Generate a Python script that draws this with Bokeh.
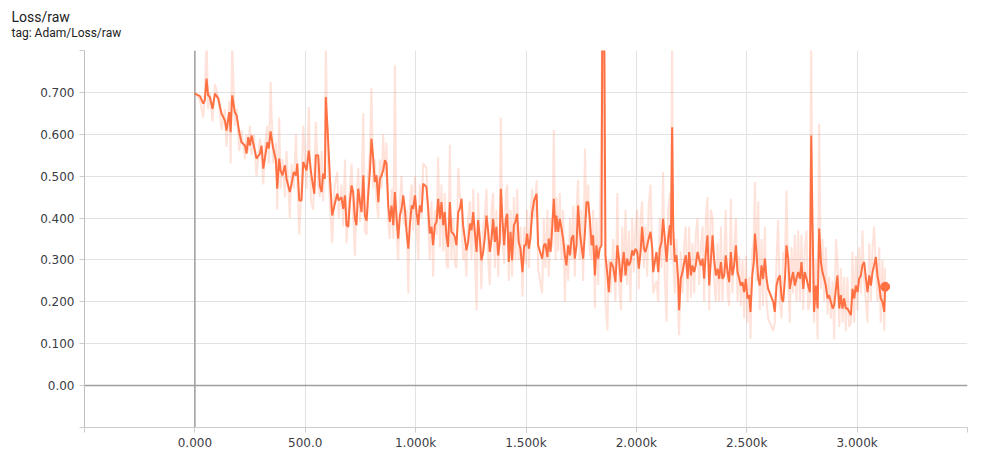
from bokeh.plotting import figure
from bokeh.models import Range1d, FixedTicker, Span, Title
from bokeh.embed import file_html
from bokeh.resources import INLINE

# ---- data ----
steps_a = [0, 23, 38, 45, 53, 60, 68, 80, 91, 106, 121, 136, 143, 156, 162, 169, 181, 189, 201, 211,
           227, 234, 242, 249, 257, 267, 279, 295, 302, 310, 317, 328, 335, 343, 355, 367, 373, 382, 388, 397,
           408, 415, 430, 438, 448, 458, 464, 473, 483, 491]
smooth_a = [0.697, 0.691, 0.673, 0.681, 0.733, 0.693, 0.689, 0.661, 0.697, 0.685,
            0.649, 0.633, 0.609, 0.653, 0.605, 0.693, 0.653, 0.645, 0.605, 0.581,
            0.573, 0.554, 0.593, 0.573, 0.597, 0.573, 0.542, 0.554, 0.573, 0.518,
            0.542, 0.581, 0.566, 0.607, 0.566, 0.538, 0.470, 0.542, 0.514, 0.502,
            0.526, 0.494, 0.462, 0.482, 0.510, 0.502, 0.530, 0.442, 0.442, 0.534]
raw_a = [0.700, 0.680, 0.640, 0.700, 0.830, 0.660, 0.700, 0.630, 0.720, 0.690,
         0.610, 0.660, 0.570, 0.680, 0.530, 0.820, 0.620, 0.660, 0.560, 0.610,
         0.540, 0.600, 0.560, 0.620, 0.550, 0.600, 0.500, 0.590, 0.540, 0.480,
         0.570, 0.620, 0.530, 0.725, 0.530, 0.580, 0.420, 0.640, 0.470, 0.540,
         0.450, 0.560, 0.400, 0.530, 0.470, 0.600, 0.490, 0.360, 0.480, 0.620]

steps_b = [506, 516, 526, 536, 541, 548, 559, 566, 574, 581, 589, 593, 601, 612, 622, 634, 645, 652, 664, 672,
           680, 687, 695, 702, 710, 717, 725, 732, 740, 748, 755, 763, 770, 778, 785, 793, 800, 808, 815, 823,
           831, 838, 846, 853, 861, 868, 876, 883, 891, 899, 906, 914, 921, 929, 936, 944, 951, 959, 967, 974,
           982, 989, 997, 1004, 1012, 1019, 1027, 1034]
smooth_b = [0.514, 0.561, 0.510, 0.474, 0.458, 0.550, 0.550, 0.478, 0.462, 0.506,
            0.494, 0.689, 0.613, 0.494, 0.406, 0.434, 0.458, 0.442, 0.450, 0.422,
            0.454, 0.383, 0.379, 0.438, 0.478, 0.462, 0.398, 0.383, 0.470, 0.438,
            0.414, 0.502, 0.406, 0.394, 0.454, 0.514, 0.589, 0.542, 0.486, 0.502,
            0.438, 0.494, 0.502, 0.514, 0.538, 0.530, 0.430, 0.391, 0.430, 0.383,
            0.462, 0.398, 0.351, 0.406, 0.422, 0.454, 0.422, 0.367, 0.327, 0.383,
            0.430, 0.422, 0.454, 0.414, 0.383, 0.430, 0.414, 0.482]
raw_b = [0.470, 0.665, 0.440, 0.420, 0.500, 0.630, 0.480, 0.450, 0.560, 0.440,
         0.540, 0.820, 0.560, 0.430, 0.340, 0.480, 0.510, 0.400, 0.480, 0.380,
         0.540, 0.340, 0.420, 0.470, 0.530, 0.410, 0.310, 0.440, 0.520, 0.390,
         0.470, 0.650, 0.370, 0.360, 0.500, 0.560, 0.710, 0.470, 0.540, 0.440,
         0.400, 0.540, 0.470, 0.600, 0.500, 0.580, 0.390, 0.350, 0.470, 0.350,
         0.765, 0.360, 0.300, 0.440, 0.500, 0.400, 0.380, 0.420, 0.220, 0.440,
         0.480, 0.370, 0.500, 0.380, 0.300, 0.480, 0.400, 0.530]

steps_c = [1049, 1057, 1064, 1072, 1079, 1087, 1095, 1102, 1110, 1117, 1125, 1132, 1140, 1147, 1155, 1162,
           1170, 1178, 1185, 1193, 1200, 1208, 1215, 1223, 1230, 1238, 1246, 1253, 1261, 1268, 1276, 1283,
           1291, 1298, 1306, 1313, 1321, 1329, 1336, 1344, 1351, 1359, 1366, 1374, 1381, 1386, 1393, 1401,
           1409, 1415, 1422, 1430, 1437, 1445, 1452, 1460, 1467, 1475, 1484, 1492, 1499, 1505, 1513, 1520,
           1528, 1537, 1548, 1555]
smooth_c = [0.474, 0.422, 0.363, 0.379, 0.335, 0.383, 0.391, 0.446, 0.398, 0.438,
            0.383, 0.414, 0.355, 0.331, 0.438, 0.367, 0.363, 0.355, 0.335, 0.414,
            0.422, 0.446, 0.383, 0.351, 0.323, 0.343, 0.387, 0.371, 0.414, 0.367,
            0.319, 0.395, 0.351, 0.299, 0.319, 0.351, 0.406, 0.367, 0.319, 0.351,
            0.398, 0.343, 0.379, 0.311, 0.343, 0.470, 0.398, 0.335, 0.398, 0.410,
            0.295, 0.367, 0.299, 0.383, 0.391, 0.410, 0.343, 0.327, 0.271, 0.335,
            0.335, 0.363, 0.327, 0.351, 0.414, 0.442, 0.458, 0.335]
raw_c = [0.520, 0.380, 0.300, 0.440, 0.260, 0.420, 0.360, 0.545, 0.330, 0.480,
         0.320, 0.460, 0.290, 0.280, 0.575, 0.300, 0.400, 0.290, 0.280, 0.520,
         0.460, 0.420, 0.300, 0.330, 0.260, 0.400, 0.440, 0.300, 0.470, 0.320,
         0.180, 0.460, 0.330, 0.230, 0.380, 0.400, 0.470, 0.300, 0.240, 0.420,
         0.460, 0.280, 0.420, 0.260, 0.380, 0.640, 0.350, 0.290, 0.460, 0.480,
         0.250, 0.420, 0.260, 0.450, 0.300, 0.470, 0.300, 0.380, 0.212, 0.380,
         0.290, 0.420, 0.280, 0.400, 0.470, 0.400, 0.490, 0.280]

steps_d = [1573, 1581, 1588, 1597, 1603, 1611, 1619, 1626, 1634, 1638, 1646, 1653, 1661, 1668, 1676, 1683,
           1691, 1699, 1706, 1714, 1721, 1729, 1736, 1744, 1751, 1759, 1767, 1774, 1782, 1789, 1797, 1804,
           1812, 1819, 1827, 1834, 1842, 1848, 1854, 1860, 1869, 1875, 1884, 1895, 1905, 1914, 1921, 1930,
           1936, 1943, 1951, 1958, 1966, 1973, 1981, 1988, 1996, 2004, 2011, 2019, 2026, 2034, 2041, 2049,
           2056, 2064, 2072, 2076]
smooth_d = [0.303, 0.335, 0.339, 0.307, 0.351, 0.319, 0.379, 0.446, 0.367, 0.406,
            0.367, 0.398, 0.375, 0.351, 0.311, 0.287, 0.335, 0.311, 0.351, 0.359,
            0.303, 0.335, 0.430, 0.367, 0.335, 0.303, 0.367, 0.438, 0.438, 0.398,
            0.335, 0.359, 0.263, 0.335, 0.303, 0.327, 0.335, 1.200, 0.900, 0.311,
            0.263, 0.223, 0.295, 0.283, 0.247, 0.335, 0.303, 0.247, 0.287, 0.319,
            0.263, 0.303, 0.287, 0.295, 0.323, 0.311, 0.327, 0.319, 0.279, 0.319,
            0.379, 0.327, 0.319, 0.335, 0.351, 0.367, 0.327, 0.271]
raw_d = [0.220, 0.400, 0.280, 0.420, 0.260, 0.400, 0.330, 0.610, 0.300, 0.450,
         0.320, 0.460, 0.300, 0.420, 0.200, 0.340, 0.250, 0.400, 0.300, 0.430,
         0.260, 0.420, 0.490, 0.300, 0.420, 0.250, 0.566, 0.400, 0.480, 0.320,
         0.300, 0.420, 0.184, 0.400, 0.240, 0.400, 0.650, 1.300, 0.500, 0.200,
         0.132, 0.300, 0.220, 0.350, 0.200, 0.460, 0.250, 0.180, 0.380, 0.260,
         0.420, 0.240, 0.370, 0.200, 0.400, 0.270, 0.380, 0.420, 0.230, 0.400,
         0.440, 0.280, 0.380, 0.260, 0.430, 0.480, 0.300, 0.220]

steps_e = [2091, 2099, 2106, 2114, 2121, 2129, 2137, 2144, 2152, 2156, 2162, 2167, 2174, 2182, 2189, 2194,
           2201, 2209, 2217, 2224, 2232, 2239, 2247, 2254, 2262, 2269, 2277, 2284, 2292, 2300, 2307, 2315,
           2322, 2330, 2337, 2345, 2352, 2360, 2368, 2375, 2383, 2390, 2398, 2405, 2413, 2420, 2428, 2435,
           2443, 2451, 2458, 2466, 2473, 2481, 2488, 2496, 2503, 2511, 2517, 2525, 2532, 2537, 2544, 2552,
           2559, 2567, 2574, 2582, 2590, 2597]
smooth_e = [0.319, 0.271, 0.327, 0.343, 0.398, 0.351, 0.295, 0.351, 0.383, 0.335,
            0.617, 0.375, 0.295, 0.311, 0.255, 0.180, 0.255, 0.271, 0.295, 0.311,
            0.255, 0.319, 0.263, 0.287, 0.271, 0.287, 0.319, 0.303, 0.287, 0.303,
            0.255, 0.319, 0.359, 0.239, 0.295, 0.359, 0.303, 0.263, 0.279, 0.255,
            0.295, 0.255, 0.263, 0.311, 0.271, 0.247, 0.319, 0.263, 0.287, 0.335,
            0.271, 0.255, 0.239, 0.247, 0.223, 0.255, 0.208, 0.216, 0.176, 0.263,
            0.295, 0.363, 0.319, 0.255, 0.239, 0.287, 0.255, 0.303, 0.255, 0.231]
raw_e = [0.250, 0.200, 0.400, 0.280, 0.510, 0.250, 0.152, 0.420, 0.460, 0.300,
         0.850, 0.300, 0.220, 0.350, 0.180, 0.120, 0.320, 0.220, 0.340, 0.380,
         0.200, 0.380, 0.210, 0.340, 0.220, 0.360, 0.400, 0.240, 0.330, 0.380,
         0.200, 0.400, 0.450, 0.180, 0.420, 0.400, 0.250, 0.200, 0.340, 0.200,
         0.380, 0.200, 0.310, 0.420, 0.220, 0.190, 0.446, 0.220, 0.330, 0.400,
         0.200, 0.310, 0.190, 0.300, 0.160, 0.310, 0.150, 0.260, 0.112, 0.320,
         0.350, 0.486, 0.250, 0.440, 0.180, 0.350, 0.190, 0.380, 0.200, 0.160]

steps_f = [2620, 2627, 2635, 2642, 2650, 2658, 2665, 2673, 2680, 2688, 2695, 2703, 2710, 2718, 2725, 2733,
           2741, 2748, 2756, 2763, 2771, 2778, 2786, 2792, 2798, 2805, 2813, 2821, 2828, 2836, 2843, 2851,
           2858, 2866, 2873, 2881, 2889, 2896, 2904, 2911, 2919, 2926, 2934, 2941, 2949, 2956, 2964, 2972,
           2979, 2987, 2994, 3002, 3009, 3017, 3024, 3032, 3040, 3047, 3055, 3062, 3070, 3077, 3085, 3092,
           3100, 3107, 3115, 3123, 3127]
smooth_f = [0.200, 0.176, 0.239, 0.255, 0.263, 0.208, 0.200, 0.255, 0.335, 0.303,
            0.231, 0.255, 0.271, 0.239, 0.255, 0.271, 0.255, 0.295, 0.231, 0.271,
            0.255, 0.239, 0.223, 0.597, 0.383, 0.176, 0.239, 0.184, 0.375, 0.295,
            0.271, 0.255, 0.239, 0.208, 0.216, 0.200, 0.184, 0.192, 0.231, 0.263,
            0.184, 0.216, 0.184, 0.208, 0.184, 0.184, 0.176, 0.168, 0.231, 0.208,
            0.239, 0.223, 0.255, 0.263, 0.287, 0.295, 0.255, 0.223, 0.263, 0.239,
            0.271, 0.287, 0.307, 0.263, 0.239, 0.208, 0.200, 0.176, 0.236]
raw_f = [0.130, 0.150, 0.300, 0.395, 0.200, 0.160, 0.320, 0.300, 0.466, 0.250,
         0.150, 0.330, 0.220, 0.360, 0.200, 0.370, 0.200, 0.360, 0.180, 0.330,
         0.370, 0.180, 0.200, 0.850, 0.250, 0.150, 0.300, 0.110, 0.625, 0.230,
         0.350, 0.200, 0.330, 0.170, 0.260, 0.160, 0.250, 0.110, 0.350, 0.300,
         0.140, 0.280, 0.150, 0.260, 0.130, 0.260, 0.140, 0.150, 0.320, 0.150,
         0.310, 0.180, 0.330, 0.220, 0.370, 0.250, 0.200, 0.150, 0.340, 0.200,
         0.330, 0.380, 0.280, 0.200, 0.330, 0.150, 0.300, 0.130, 0.280]

x_ticks = [-500, 0, 500, 1000, 1500, 2000, 2500, 3000, 3500]
x_tick_labels = ["", "0.000", "500.0", "1.000k", "1.500k", "2.000k", "2.500k", "3.000k", ""]
y_ticks = [-0.1, 0.0, 0.1, 0.2, 0.3, 0.4, 0.5, 0.6, 0.7, 0.8]
y_tick_labels = ["", "0.00", "0.100", "0.200", "0.300", "0.400", "0.500", "0.600", "0.700", ""]

steps = steps_a + steps_b + steps_c + steps_d + steps_e + steps_f
smooth = smooth_a + smooth_b + smooth_c + smooth_d + smooth_e + smooth_f
raw = raw_a + raw_b + raw_c + raw_d + raw_e + raw_f
for nm, (s, v, r) in {"a": (steps_a, smooth_a, raw_a), "b": (steps_b, smooth_b, raw_b),
                      "c": (steps_c, smooth_c, raw_c), "d": (steps_d, smooth_d, raw_d),
                      "e": (steps_e, smooth_e, raw_e), "f": (steps_f, smooth_f, raw_f)}.items():
    if not (len(s) == len(v) == len(r)):
        raise ValueError(f"segment {nm}: {len(s)} {len(v)} {len(r)}")

ORANGE = "#ff7043"
LABEL_FONT = "DejaVu Sans"
LABEL_COLOR = "#3c3c44"

p = figure(width=987, height=454, x_range=Range1d(-500, 3500), y_range=Range1d(-0.1, 0.8),
           output_backend="svg", toolbar_location=None,
           min_border_left=84, min_border_right=20, min_border_top=50, min_border_bottom=27)
p.outline_line_color = None
p.background_fill_color = "white"
p.border_fill_color = "white"

sub = Title(text="tag: Adam/Loss/raw", text_font="Roboto", text_font_size="12px",
            text_font_style="normal", text_color="#212121", align="left", offset=-73,
            vertical_align="top", standoff=18)
main = Title(text="Loss/raw", text_font="Roboto", text_font_size="14px",
             text_font_style="normal", text_color="#212121", align="left", offset=-73,
             vertical_align="bottom", standoff=-17)
p.add_layout(sub, "above")
p.add_layout(main, "above")

p.xaxis.ticker = FixedTicker(ticks=x_ticks)
p.yaxis.ticker = FixedTicker(ticks=y_ticks)
p.xaxis.major_label_overrides = dict(zip(x_ticks, x_tick_labels))
p.yaxis.major_label_overrides = dict(zip(y_ticks, y_tick_labels))

for ax in (p.xaxis, p.yaxis):
    ax.major_label_text_font = LABEL_FONT
    ax.major_label_text_font_size = "12px"
    ax.major_label_text_color = LABEL_COLOR
    ax.major_tick_in = 0
    ax.major_tick_out = 5
    ax.minor_tick_line_color = None
    ax.major_tick_line_color = "#cccccc"
p.xaxis.major_label_standoff = 3
p.yaxis.major_label_standoff = 5
p.yaxis.axis_line_color = "#bdbdbd"
p.xaxis.axis_line_color = "#cccccc"

p.xgrid.grid_line_color = "#e2e2e2"
p.ygrid.grid_line_color = "#e2e2e2"

zx = Span(location=0, dimension="height", line_color="#9e9e9e", line_width=1.5, level="underlay")
zy = Span(location=0, dimension="width", line_color="#9e9e9e", line_width=1.5, level="underlay")
p.add_layout(zx)
p.add_layout(zy)

p.line(steps, raw, line_color=ORANGE, line_alpha=0.2, line_width=2)
p.line(steps, smooth, line_color=ORANGE, line_width=2)
p.scatter(steps[-1:], smooth[-1:], size=9, color=ORANGE)

open("out.html", "w").write(file_html(p, INLINE))
